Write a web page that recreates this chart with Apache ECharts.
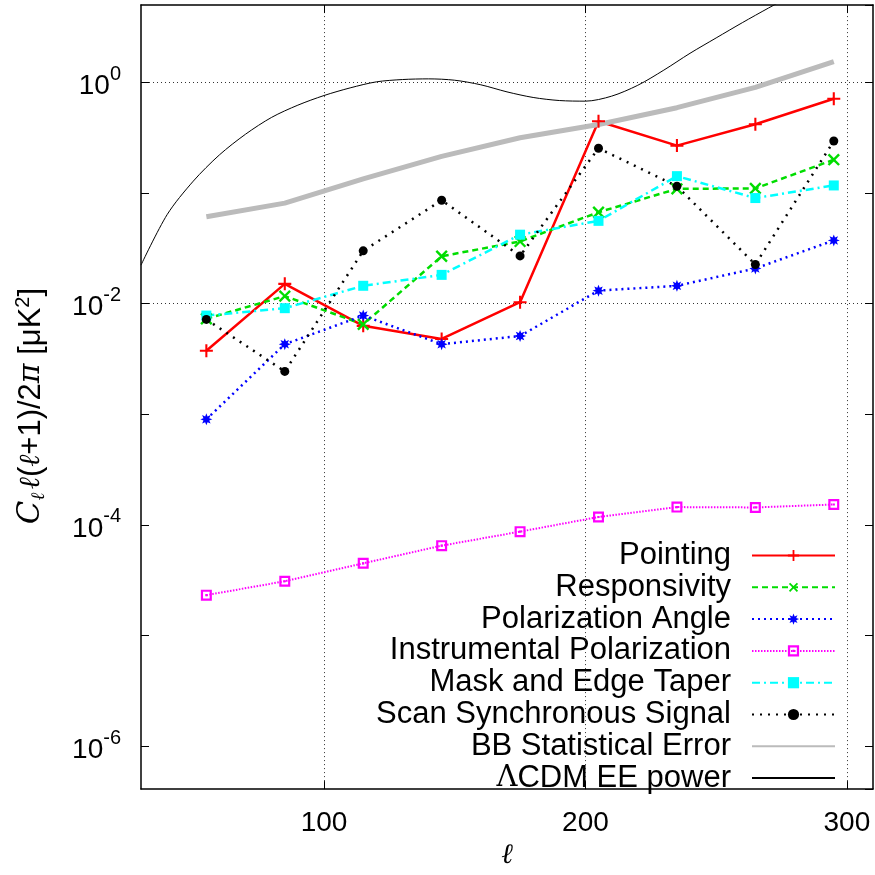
<!DOCTYPE html>
<html>
<head>
<meta charset="utf-8">
<script src="https://cdn.jsdelivr.net/npm/echarts@6.0.0/dist/echarts.min.js"></script>
<style>
  html, body { margin: 0; padding: 0; background: #fff; }
  #chart { width: 875px; height: 875px; }
</style>
</head>
<body>
<div id="chart"></div>
<script>
// multipole bins
var ells = [55, 85, 115, 145, 175, 205, 235, 265, 295];
var pointing = [3.75e-3, 1.51e-2, 6.3e-3, 4.8e-3, 1.03e-2, 0.445, 0.268, 0.418, 0.71];
var responsivity = [7.3e-3, 1.17e-2, 6.5e-3, 2.68e-2, 3.65e-2, 6.7e-2, 0.109, 0.11, 0.2];
var polAngle = [9.0e-4, 4.3e-3, 7.8e-3, 4.3e-3, 5.1e-3, 1.31e-2, 1.45e-2, 2.08e-2, 3.73e-2];
var instPol = [2.32e-5, 3.1e-5, 4.5e-5, 6.5e-5, 8.7e-5, 1.18e-4, 1.45e-4, 1.44e-4, 1.53e-4];
var maskTaper = [7.8e-3, 9.1e-3, 1.45e-2, 1.82e-2, 4.2e-2, 5.6e-2, 0.142, 0.09, 0.117];
var scanSync = [7.2e-3, 2.44e-3, 3.0e-2, 8.6e-2, 2.7e-2, 0.254, 0.115, 2.26e-2, 0.295];
var bbStat = [6.1e-2, 8.1e-2, 0.134, 0.214, 0.316, 0.416, 0.59, 0.90, 1.54];

// LCDM EE curve, every 10 in ell
var eeEll = [30, 40, 50, 60, 70, 80, 90, 100, 110, 120, 130, 140, 150, 160, 170, 180, 190, 200, 210, 220, 230, 240, 250, 260, 270, 280, 290];
var eeVal = [0.0223, 0.0638, 0.128, 0.221, 0.340, 0.483, 0.622, 0.760, 0.891, 1.01, 1.06, 1.075, 1.045, 0.95, 0.82, 0.73, 0.685, 0.676, 0.75, 0.94, 1.29, 1.83, 2.52, 3.46, 4.69, 6.3, 8.5];

var xTicks = [100, 200, 300];
var gridDecades = [1, 1e-2, 1e-4, 1e-6];

var FONT = "'Liberation Sans', Arial, sans-serif";
var SERIF = "'DejaVu Serif', serif";
var PLUS = 'path://M4.2,0H5.8V4.2H10V5.8H5.8V10H4.2V5.8H0V4.2H4.2Z';
var STAR = 'path://M10,5L7.4,6L8.54,8.54L6,7.4L5,10L4,7.4L1.46,8.54L2.6,6L0,5L2.6,4L1.46,1.46L4,2.6L5,0L6,2.6L8.54,1.46L7.4,4Z';
var BOXDOT = 'path://M0,0H10V10H0Z M2,2V8H8V2Z M4,4H6V6H4Z';

function pairs(xs, ys) {
  return xs.map(function (x, i) { return [x, ys[i]]; });
}

function lineSeries(name, ys, color, dash, width, symbol, size, rotate) {
  return {
    name: name,
    type: 'line',
    z: 5,
    data: pairs(ells, ys),
    color: color,
    symbol: symbol,
    symbolSize: size,
    symbolRotate: rotate || 0,
    showSymbol: true,
    lineStyle: { color: color, width: width, type: dash },
    itemStyle: { color: color },
    emphasis: { disabled: true }
  };
}

var myChart = echarts.init(document.getElementById('chart'));

var gridLine = { color: '#333', width: 1, type: [1, 3] };

var option = {
  backgroundColor: '#fff',
  animation: false,
  grid: { left: 141, right: 2, top: 5, bottom: 76, containLabel: false },
  legend: {
    orient: 'vertical',
    right: 19,
    top: 538,
    z: 4,
    align: 'right',
    itemWidth: 83,
    itemHeight: 14,
    itemGap: 0.8,
    padding: [2, 20, 0, 19],
    backgroundColor: '#fff',
    selectedMode: false,
    data: ['Pointing', 'Responsivity', 'Polarization Angle', 'Instrumental Polarization',
      'Mask and Edge Taper', 'Scan Synchronous Signal',
      { name: 'BB Statistical Error', itemStyle: { opacity: 0 } },
      { name: '\u039BCDM EE power', itemStyle: { opacity: 0 } }],
    formatter: function (name) {
      if (name.charAt(0) === '\u039B') {
        return '{g|\u039B}{t|' + name.slice(1) + '}{p|}';
      }
      return '{t|' + name + '}{p|}';
    },
    textStyle: {
      color: '#000',
      rich: {
        t: { fontFamily: FONT, fontSize: 31, lineHeight: 30, color: '#000' },
        g: { fontFamily: SERIF, fontSize: 29, lineHeight: 30, color: '#000' },
        p: { width: 16 }
      }
    }
  },
  xAxis: [{
    type: 'value',
    min: 30,
    max: 310,
    position: 'bottom',
    z: 6,
    name: '\u2113',
    nameLocation: 'middle',
    nameGap: 42,
    nameTextStyle: { fontFamily: SERIF, fontStyle: 'italic', fontSize: 28, color: '#000' },
    axisLine: { lineStyle: { color: '#000', width: 1.5 } },
    axisTick: { inside: true, length: 8, customValues: xTicks, lineStyle: { color: '#000' } },
    axisLabel: { fontFamily: FONT, fontSize: 28, color: '#000', margin: 20, customValues: xTicks },
    splitLine: { show: false }
  }, {
    type: 'value',
    min: 30,
    max: 310,
    position: 'top',
    z: 6,
    axisLine: { lineStyle: { color: '#000', width: 1.5 } },
    axisTick: { inside: true, length: 8, customValues: xTicks, lineStyle: { color: '#000' } },
    axisLabel: { show: false },
    splitLine: { show: false }
  }],
  yAxis: [{
    type: 'log',
    logBase: 10,
    min: 4.1e-7,
    max: 5,
    position: 'left',
    z: 6,
    name: '{c|C}{sub|\u2113} {l|\u2113}{t|(}{l|\u2113}{t|+1)/2}{pi|\u03C0}{t| [\u03BCK}{sup|2}{t|]}{sp|}',
    nameLocation: 'middle',
    nameRotate: 90,
    nameGap: 92,
    nameTextStyle: {
      rich: {
        t: { fontFamily: FONT, fontSize: 31, lineHeight: 36, color: '#000' },
        c: { fontFamily: SERIF, fontStyle: 'italic', fontSize: 31, lineHeight: 36, color: '#000' },
        l: { fontFamily: SERIF, fontStyle: 'italic', fontSize: 29, lineHeight: 36, color: '#000' },
        pi: { fontFamily: SERIF, fontStyle: 'italic', fontSize: 30, lineHeight: 36, color: '#000' },
        sub: { fontFamily: SERIF, fontStyle: 'italic', fontSize: 19, lineHeight: 18, verticalAlign: 'bottom', color: '#000' },
        sup: { fontFamily: FONT, fontSize: 20, lineHeight: 18, verticalAlign: 'top', color: '#000' },
        sp: { width: 18 }
      }
    },
    axisLine: { lineStyle: { color: '#000', width: 1.5 } },
    axisTick: { inside: true, length: 8, lineStyle: { color: '#000' } },
    axisLabel: {
      margin: 20,
      showMinLabel: false,
      showMaxLabel: false,
      formatter: function (v) {
        var e = Math.log10(v);
        var r = Math.round(e);
        if (Math.abs(e - r) > 1e-6 || r % 2 !== 0) return '';
        return '{b|10}{s|' + r + '}';
      },
      rich: {
        b: { fontFamily: FONT, fontSize: 28, lineHeight: 36, verticalAlign: 'bottom', color: '#000' },
        s: { fontFamily: FONT, fontSize: 20, lineHeight: 20, verticalAlign: 'top', color: '#000' }
      }
    },
    splitLine: { show: false }
  }, {
    type: 'log',
    logBase: 10,
    min: 4.1e-7,
    max: 5,
    position: 'right',
    z: 6,
    axisLine: { lineStyle: { color: '#000', width: 1.5 } },
    axisTick: { inside: true, length: 8, lineStyle: { color: '#000' } },
    axisLabel: { show: false },
    splitLine: { show: false }
  }],
  series: [
    {
      name: '_grid',
      type: 'line',
      data: [],
      z: 1,
      silent: true,
      markLine: {
        silent: true,
        symbol: 'none',
        label: { show: false },
        lineStyle: gridLine,
        emphasis: { disabled: true },
        data: gridDecades.map(function (v) { return { yAxis: v }; })
          .concat(xTicks.map(function (v) { return { xAxis: v }; }))
      }
    },
    lineSeries('Pointing', pointing, '#ff0000', 'solid', 2.5, PLUS, 13, 0),
    lineSeries('Responsivity', responsivity, '#00dd00', [6, 4], 2.5, PLUS, 15, 45),
    lineSeries('Polarization Angle', polAngle, '#0000ff', [2, 4], 2.5, STAR, 12, 0),
    lineSeries('Instrumental Polarization', instPol, '#ff00ff', [1.5, 1.5], 2, BOXDOT, 11, 0),
    lineSeries('Mask and Edge Taper', maskTaper, '#00ffff', [8, 4, 2, 4], 2.5, 'rect', 10, 0),
    lineSeries('Scan Synchronous Signal', scanSync, '#000000', [2, 6], 2.5, 'circle', 9, 0),
    {
      name: 'BB Statistical Error',
      type: 'line',
      z: 5,
      data: pairs(ells, bbStat),
      color: '#bbbbbb',
      symbol: 'none',
      lineStyle: { color: '#bbbbbb', width: 5 },
      emphasis: { disabled: true }
    },
    {
      name: '\u039BCDM EE power',
      type: 'line',
      z: 5,
      data: pairs(eeEll, eeVal),
      color: '#000',
      symbol: 'none',
      smooth: 0.3,
      lineStyle: { color: '#000', width: 1 },
      emphasis: { disabled: true }
    }
  ]
};

myChart.setOption(option);
</script>
</body>
</html>
